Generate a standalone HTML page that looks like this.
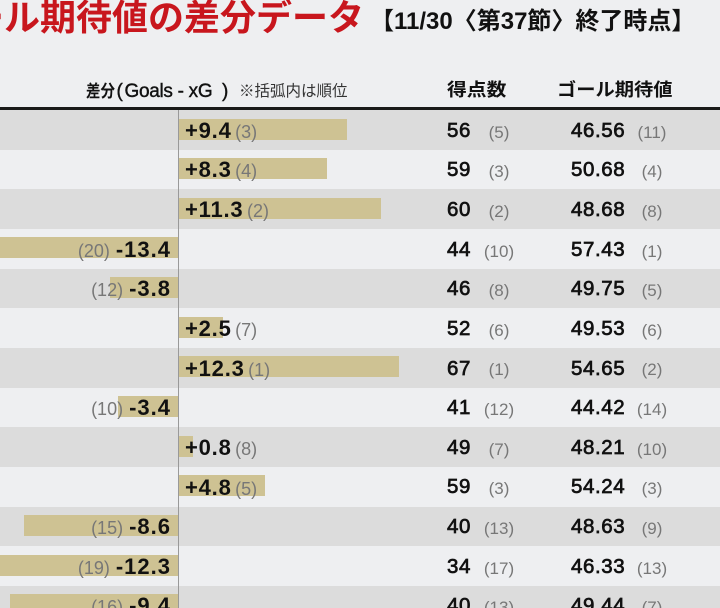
<!DOCTYPE html>
<html><head><meta charset="utf-8">
<style>
html,body{margin:0;padding:0;overflow:hidden;width:720px;height:608px}
body{background:#eeeff1;position:relative;font-family:"Liberation Sans","Noto Sans CJK JP",sans-serif;}
#wrap{position:absolute;left:0;top:0;width:720px;height:608px;overflow:hidden}
.t{position:absolute;white-space:nowrap}
.r{position:absolute;left:0;width:720px;height:39.7px;overflow:hidden}
.d{background:#dcdcdc}.l{background:#eeeff1}
.b{position:absolute;top:8.5px;height:21px;background:#cec293}
.p,.n{position:absolute;top:9.7px;font-size:22px;line-height:22px;font-weight:bold;white-space:nowrap;color:#111}
.p{left:185px}
.p .v{letter-spacing:0.8px}
.n{right:549px;text-align:right}
.n .v{letter-spacing:1px}
.k{font-size:18px;line-height:18px;font-weight:normal;color:#777;letter-spacing:0}
.p .k{margin-left:3.5px}
.n .k{margin-right:6px}
.s{position:absolute;top:10.65px;font-size:20.5px;line-height:20.5px;color:#111;letter-spacing:0.6px;-webkit-text-stroke:0.7px #111;white-space:nowrap}
.q{position:absolute;top:13.6px;width:60px;text-align:center;font-size:17px;line-height:17px;color:#777;white-space:nowrap}
.s1{left:447px}.s2{left:571px}.q1{left:469px}.q2{left:622px}
</style></head><body><div id="wrap">

<div class="t" style="left:-68px;top:0;font-size:36px;line-height:36px;font-weight:bold;color:#c8161d;">ゴール期待値の差分データ</div>

<div class="t" style="left:370px;top:9.5px;font-size:24px;line-height:24px;font-weight:bold;color:#111;">【11/30〈第37節〉終了時点】</div>

<div class="t" style="left:86px;top:82.7px;font-size:17px;line-height:17px;font-weight:bold;color:#111;transform:scaleX(0.85);transform-origin:0 0;">差分</div>
<div class="t" style="left:116.5px;top:81.9px;font-size:19px;line-height:19px;color:#111;-webkit-text-stroke:0.4px #111;">(</div>
<div class="t" style="left:124.5px;top:81.9px;font-size:19px;line-height:19px;color:#111;letter-spacing:-0.3px;-webkit-text-stroke:0.4px #111;">Goals - xG</div>
<div class="t" style="left:222px;top:81.9px;font-size:19px;line-height:19px;color:#111;-webkit-text-stroke:0.4px #111;">)</div>
<div class="t" style="left:239px;top:83.9px;font-size:15.5px;line-height:15.5px;color:#333;">※括弧内は順位</div>
<div class="t" style="left:447px;top:81.4px;font-size:18px;line-height:18px;font-weight:bold;color:#111;transform:scaleX(1.1);transform-origin:0 0;">得点数</div>
<div class="t" style="left:557px;top:81.4px;font-size:18px;line-height:18px;font-weight:bold;color:#111;transform:scaleX(1.07);transform-origin:0 0;">ゴール期待値</div>

<div class="t" style="left:0;top:107px;width:720px;height:3px;background:#1a1a1a"></div>

<div class="r d" style="top:110px">
 <div class="b" style="left:178.5px;width:168.4px"></div>
 <div class="p"><span class="v">+9.4</span><span class="k">(3)</span></div>
 <div class="s s1">56</div><div class="q q1">(5)</div>
 <div class="s s2">46.56</div><div class="q q2">(11)</div>
</div>
<div class="r l" style="top:149.65px">
 <div class="b" style="left:178.5px;width:148.7px"></div>
 <div class="p"><span class="v">+8.3</span><span class="k">(4)</span></div>
 <div class="s s1">59</div><div class="q q1">(3)</div>
 <div class="s s2">50.68</div><div class="q q2">(4)</div>
</div>
<div class="r d" style="top:189.3px">
 <div class="b" style="left:178.5px;width:202.5px"></div>
 <div class="p"><span class="v">+11.3</span><span class="k">(2)</span></div>
 <div class="s s1">60</div><div class="q q1">(2)</div>
 <div class="s s2">48.68</div><div class="q q2">(8)</div>
</div>
<div class="r l" style="top:228.95px">
 <div class="b" style="left:0;width:178.5px"></div>
 <div class="n"><span class="k">(20)</span><span class="v">-13.4</span></div>
 <div class="s s1">44</div><div class="q q1">(10)</div>
 <div class="s s2">57.43</div><div class="q q2">(1)</div>
</div>
<div class="r d" style="top:268.6px">
 <div class="b" style="left:110.4px;width:68.1px"></div>
 <div class="n"><span class="k">(12)</span><span class="v">-3.8</span></div>
 <div class="s s1">46</div><div class="q q1">(8)</div>
 <div class="s s2">49.75</div><div class="q q2">(5)</div>
</div>
<div class="r l" style="top:308.25px">
 <div class="b" style="left:178.5px;width:44.8px"></div>
 <div class="p"><span class="v">+2.5</span><span class="k">(7)</span></div>
 <div class="s s1">52</div><div class="q q1">(6)</div>
 <div class="s s2">49.53</div><div class="q q2">(6)</div>
</div>
<div class="r d" style="top:347.9px">
 <div class="b" style="left:178.5px;width:220.4px"></div>
 <div class="p"><span class="v">+12.3</span><span class="k">(1)</span></div>
 <div class="s s1">67</div><div class="q q1">(1)</div>
 <div class="s s2">54.65</div><div class="q q2">(2)</div>
</div>
<div class="r l" style="top:387.55px">
 <div class="b" style="left:117.6px;width:60.9px"></div>
 <div class="n"><span class="k">(10)</span><span class="v">-3.4</span></div>
 <div class="s s1">41</div><div class="q q1">(12)</div>
 <div class="s s2">44.42</div><div class="q q2">(14)</div>
</div>
<div class="r d" style="top:427.2px">
 <div class="b" style="left:178.5px;width:14.3px"></div>
 <div class="p"><span class="v">+0.8</span><span class="k">(8)</span></div>
 <div class="s s1">49</div><div class="q q1">(7)</div>
 <div class="s s2">48.21</div><div class="q q2">(10)</div>
</div>
<div class="r l" style="top:466.85px">
 <div class="b" style="left:178.5px;width:86px"></div>
 <div class="p"><span class="v">+4.8</span><span class="k">(5)</span></div>
 <div class="s s1">59</div><div class="q q1">(3)</div>
 <div class="s s2">54.24</div><div class="q q2">(3)</div>
</div>
<div class="r d" style="top:506.5px">
 <div class="b" style="left:24.4px;width:154.1px"></div>
 <div class="n"><span class="k">(15)</span><span class="v">-8.6</span></div>
 <div class="s s1">40</div><div class="q q1">(13)</div>
 <div class="s s2">48.63</div><div class="q q2">(9)</div>
</div>
<div class="r l" style="top:546.15px">
 <div class="b" style="left:0;width:178.5px"></div>
 <div class="n"><span class="k">(19)</span><span class="v">-12.3</span></div>
 <div class="s s1">34</div><div class="q q1">(17)</div>
 <div class="s s2">46.33</div><div class="q q2">(13)</div>
</div>
<div class="r d" style="top:585.8px;height:22.2px">
 <div class="b" style="left:10.1px;width:168.4px"></div>
 <div class="n"><span class="k">(16)</span><span class="v">-9.4</span></div>
 <div class="s s1">40</div><div class="q q1">(13)</div>
 <div class="s s2">49.44</div><div class="q q2">(7)</div>
</div>

<div class="t" style="left:178px;top:110px;width:1px;height:498px;background:#999"></div>
</div></body></html>
